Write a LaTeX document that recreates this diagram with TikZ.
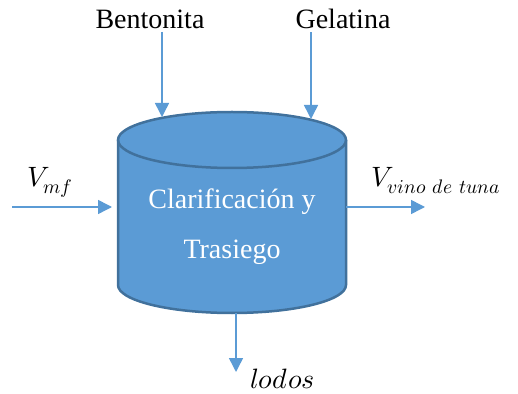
\documentclass[tikz,border=0pt]{standalone}
\usepackage{fontspec}
\usepackage{unicode-math}
\setmainfont{Liberation Serif}
\setmathfont{Latin Modern Math}
\usetikzlibrary{arrows.meta}
\definecolor{tankblue}{RGB}{91,155,213}
\definecolor{tankedge}{RGB}{65,113,156}
\tikzset{flow/.style={draw=tankblue, line width=1.5pt, -{Triangle[width=14pt,length=14pt]}},
 lbl/.style={font=\fontsize{28}{34}\selectfont}}
\begin{document}
\begin{tikzpicture}[x=1pt,y=1pt]
\useasboundingbox (0,0) rectangle (518,393);
% tank
\fill [tankblue] (118,253) -- (118,108) arc (180:360:114 and 28) -- (346,253) arc (0:180:114 and 28) -- cycle;
\draw [tankedge, line width=2.5pt] (118,253) -- (118,108) arc (180:360:114 and 28) -- (346,253);
\draw [tankedge, line width=2.5pt] (232,253) ellipse (114 and 28);
\node [lbl, text=white, align=center, font=\fontsize{28}{50}\selectfont] (proc) at (232,166) {Clarificación y\\Trasiego};
% inputs and outputs
\node [lbl] (bento) at (150,374) {Bentonita};
\node [lbl] (gela) at (343,374) {Gelatina};
\node [lbl, anchor=base] (vmf) at (50,206) {$V_{mf}$};
\node [lbl, anchor=base west] (vvino) at (368,206) {$V_{vino\ de\ tuna}$};
\node [lbl, anchor=base west] (lodos) at (247,5) {$lodos$};
\coordinate (inB) at (162,276);
\coordinate (inG) at (311,274);
\coordinate (inL) at (12,186);
\coordinate (tankL) at (112,186);
\coordinate (tankR) at (346,186);
\coordinate (outR) at (425,186);
\coordinate (tankB) at (236,80);
\coordinate (outB) at (236,21);
\draw [flow] (bento.south -| inB) -- (inB);
\draw [flow] (gela.south -| inG) -- (inG);
\draw [flow] (inL) -- (tankL);
\draw [flow] (tankR) -- (outR);
\draw [flow] (tankB) -- (outB);
\end{tikzpicture}
\end{document}
